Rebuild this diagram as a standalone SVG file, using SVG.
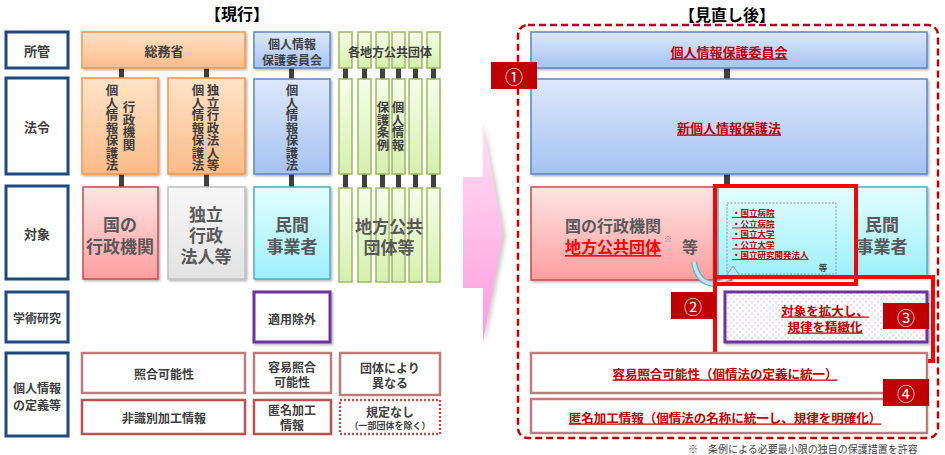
<svg xmlns="http://www.w3.org/2000/svg" width="945" height="455" viewBox="0 0 945 455">
<defs>
<linearGradient id="gOr" x1="0" y1="0" x2="0" y2="1"><stop offset="0" stop-color="#FFE3C8"/><stop offset="1" stop-color="#FBBB88"/></linearGradient>
<linearGradient id="gBl" x1="0" y1="0" x2="0" y2="1"><stop offset="0" stop-color="#DDE8FA"/><stop offset="1" stop-color="#A5C3F2"/></linearGradient>
<linearGradient id="gGr" x1="0" y1="0" x2="0" y2="1"><stop offset="0" stop-color="#F5FDEB"/><stop offset="1" stop-color="#D5EFAE"/></linearGradient>
<linearGradient id="gPk" x1="0" y1="0" x2="0" y2="1"><stop offset="0" stop-color="#FFE4E4"/><stop offset="1" stop-color="#FF9E9E"/></linearGradient>
<linearGradient id="gGy" x1="0" y1="0" x2="0" y2="1"><stop offset="0" stop-color="#F7F7F7"/><stop offset="1" stop-color="#E2E2E2"/></linearGradient>
<linearGradient id="gCy" x1="0" y1="0" x2="0" y2="1"><stop offset="0" stop-color="#E2FEFF"/><stop offset="1" stop-color="#9DEFFA"/></linearGradient>
<linearGradient id="gAr" x1="0" y1="0" x2="0" y2="1"><stop offset="0" stop-color="#FFE0F4"/><stop offset="1" stop-color="#FF9ADF"/></linearGradient>
<pattern id="dots" width="6" height="6" patternUnits="userSpaceOnUse"><rect width="6" height="6" fill="#fff"/><circle cx="2" cy="2" r="0.7" fill="#D9A0C8"/><circle cx="5" cy="5" r="0.7" fill="#D9A0C8"/></pattern>
<filter id="sh" x="-10%" y="-10%" width="130%" height="130%"><feDropShadow dx="1.5" dy="1.5" stdDeviation="1" flood-color="#000" flood-opacity="0.3"/></filter>
<filter id="blur"><feGaussianBlur stdDeviation="2"/></filter>
</defs>
<style>
text{font-family:"Noto Sans CJK JP","Noto Sans",sans-serif;font-weight:bold;fill:#404040;text-anchor:middle;dominant-baseline:central}
.lab{fill:#fff;stroke:#1F497D;stroke-width:3}
.or{fill:url(#gOr);stroke:#F79646;stroke-width:1.5}
.bl{fill:url(#gBl);stroke:#5B85C4;stroke-width:1.5}
.gr{fill:url(#gGr);stroke:#9BBB59;stroke-width:1.5}
.pk{fill:url(#gPk);stroke:#C0504D;stroke-width:1.5}
.gy{fill:url(#gGy);stroke:#BFBFBF;stroke-width:1.5}
.cy{fill:url(#gCy);stroke:#4BACC6;stroke-width:1.5}
.def1{fill:#fff;stroke:#C07B7B;stroke-width:2.5}
.def2{fill:#fff;stroke:#C0504D;stroke-width:2.5}
.badge{fill:#C00000}
.bt{fill:#fff;font-size:18px;font-weight:normal}
.v{writing-mode:vertical-rl;text-anchor:start;font-size:12.5px;dominant-baseline:auto}
.s12{font-size:12px}
.s13{font-size:13px}
.s17{font-size:17px}
.red{fill:#C00000;text-decoration:underline}
.conn{fill:#404040}
.li{font-size:8.5px;text-anchor:start;fill:#C00000;dominant-baseline:auto;text-decoration:underline}
</style>

<text x="237" y="13" font-size="16" style="fill:#000">【現行】</text>
<text x="727" y="14" font-size="16" style="fill:#000">【見直し後】</text>

<g id="connectors">
<rect class="conn" x="119" y="68" width="5" height="11"/>
<rect class="conn" x="204" y="68" width="5" height="11"/>
<rect class="conn" x="119" y="174" width="5" height="13"/>
<rect class="conn" x="204" y="174" width="5" height="13"/>
<rect class="conn" x="289" y="68" width="5" height="11"/>
<rect class="conn" x="289" y="174" width="5" height="13"/>
<rect class="conn" x="343" y="68" width="5" height="11"/>
<rect class="conn" x="362" y="68" width="5" height="11"/>
<rect class="conn" x="380" y="68" width="5" height="11"/>
<rect class="conn" x="396" y="68" width="5" height="11"/>
<rect class="conn" x="413" y="68" width="5" height="11"/>
<rect class="conn" x="431" y="68" width="5" height="11"/>
<rect class="conn" x="343" y="174" width="5" height="14"/>
<rect class="conn" x="362" y="174" width="5" height="14"/>
<rect class="conn" x="380" y="174" width="5" height="14"/>
<rect class="conn" x="396" y="174" width="5" height="14"/>
<rect class="conn" x="413" y="174" width="5" height="14"/>
<rect class="conn" x="431" y="174" width="5" height="14"/>
<rect class="conn" x="724" y="68" width="6" height="11"/>
<rect class="conn" x="724" y="174" width="6" height="13"/>
</g>

<g id="row-labels">
<g id="lab-shokan"><rect class="lab" x="6" y="32" width="62" height="36"/><text class="s13" x="37" y="50">所管</text></g>
<g id="lab-horei"><rect class="lab" x="6" y="78" width="62" height="96"/><text class="s13" x="37" y="126">法令</text></g>
<g id="lab-taisho"><rect class="lab" x="6" y="186" width="62" height="93"/><text class="s13" x="37" y="233">対象</text></g>
<g id="lab-gakujutsu"><rect class="lab" x="6" y="292" width="62" height="50"/><text class="s12" x="37" y="317">学術研究</text></g>
<g id="lab-teigi"><rect class="lab" x="6" y="353" width="62" height="83"/><text class="s12" x="37" y="387">個人情報</text><text class="s12" x="37" y="404">の定義等</text></g>
</g>

<g id="somusho"><rect class="or" x="82" y="32" width="163" height="36" filter="url(#sh)"/><text class="s13" x="164" y="50">総務省</text></g>
<g id="law-gyosei"><rect class="or" x="82" y="78" width="76" height="96" filter="url(#sh)"/><text class="v" x="112" y="84">個人情報保護法</text><text class="v" x="129" y="101">行政機関</text></g>
<g id="law-dokuho"><rect class="or" x="168" y="78" width="77" height="96" filter="url(#sh)"/><text class="v" x="198" y="84">個人情報保護法</text><text class="v" x="213" y="84">独立行政法人等</text></g>
<g id="kuni"><rect class="pk" x="83" y="187" width="75" height="92" filter="url(#sh)"/><text class="s17" x="120" y="223" style="fill:#595959">国の</text><text class="s17" x="120" y="245" style="fill:#595959">行政機関</text></g>
<g id="dokuho"><rect class="gy" x="168" y="187" width="77" height="92" filter="url(#sh)"/><text class="s17" x="206" y="213" style="fill:#595959">独立</text><text class="s17" x="206" y="234" style="fill:#595959">行政</text><text class="s17" x="206" y="255" style="fill:#595959">法人等</text></g>

<g id="ppc"><rect class="bl" x="254" y="32" width="76" height="36" filter="url(#sh)"/><text class="s12" x="292" y="43">個人情報</text><text class="s12" x="292" y="59">保護委員会</text></g>
<g id="law-ppc"><rect class="bl" x="254" y="79" width="76" height="95" filter="url(#sh)"/><text class="v" x="292" y="84">個人情報保護法</text></g>
<g id="minkan"><rect class="cy" x="254" y="187" width="76" height="92" filter="url(#sh)"/><text class="s17" x="292" y="223" style="fill:#595959">民間</text><text class="s17" x="292" y="245" style="fill:#595959">事業者</text></g>
<g id="tekiyo"><rect x="254" y="292" width="76" height="50" fill="#fff" stroke="#7030A0" stroke-width="3" filter="url(#sh)"/><text class="s12" x="292" y="318">適用除外</text></g>

<g id="chiho">
<g id="chiho-top">
<rect class="gr" x="339" y="32" width="13" height="36"/><rect class="gr" x="358" y="32" width="13" height="36"/><rect class="gr" x="376" y="32" width="13" height="36"/><rect class="gr" x="392" y="32" width="13" height="36"/><rect class="gr" x="409" y="32" width="13" height="36"/><rect class="gr" x="427" y="32" width="13" height="36"/>
<text class="s12" x="390" y="51">各地方公共団体</text></g>
<g id="chiho-law">
<rect class="gr" x="339" y="79" width="13" height="95"/><rect class="gr" x="358" y="79" width="13" height="95"/><rect class="gr" x="376" y="79" width="13" height="95"/><rect class="gr" x="392" y="79" width="13" height="95"/><rect class="gr" x="409" y="79" width="13" height="95"/><rect class="gr" x="427" y="79" width="13" height="95"/>
<text class="v" x="398" y="101">個人情報</text><text class="v" x="383" y="101">保護条例</text></g>
<g id="chiho-target">
<rect class="gr" x="339" y="188" width="13" height="94"/><rect class="gr" x="358" y="188" width="13" height="94"/><rect class="gr" x="376" y="188" width="13" height="94"/><rect class="gr" x="392" y="188" width="13" height="94"/><rect class="gr" x="409" y="188" width="13" height="94"/><rect class="gr" x="427" y="188" width="13" height="94"/>
<text class="s17" x="389" y="225" style="fill:#595959">地方公共</text><text class="s17" x="389" y="246" style="fill:#595959">団体等</text></g>
</g>

<g id="shogo"><rect class="def1" x="82" y="353" width="163" height="40"/><text class="s12" x="164" y="373">照合可能性</text></g>
<g id="hishikibetsu"><rect class="def2" x="82" y="400" width="163" height="34"/><text class="s12" x="164" y="417">非識別加工情報</text></g>
<g id="yoi"><rect class="def1" x="254" y="353" width="77" height="40"/><text class="s12" x="292" y="366">容易照合</text><text class="s12" x="292" y="381">可能性</text></g>
<g id="tokumei"><rect class="def2" x="254" y="400" width="77" height="34"/><text class="s12" x="292" y="409">匿名加工</text><text class="s12" x="292" y="424">情報</text></g>
<g id="dantai"><rect class="def1" x="340" y="353" width="100" height="42"/><text class="s12" x="390" y="367">団体により</text><text class="s12" x="390" y="382">異なる</text></g>
<g id="kitei"><rect x="340" y="400" width="100" height="34" fill="#fff" stroke="#C0504D" stroke-width="2.5" stroke-dasharray="2,2"/><text class="s12" x="390" y="411">規定なし</text><text x="390" y="425" font-size="9">（一部団体を除く）</text></g>

<g id="big-arrow">
<polygon points="485,126 506,236 485,345" fill="#999" opacity="0.5" filter="url(#blur)"/>
<polygon points="463,177 483,177 483,123 503,233 483,342 483,288 463,288" fill="url(#gAr)"/>
</g>

<g id="review">
<rect x="518" y="25" width="420" height="413" rx="10" fill="none" stroke="#C00000" stroke-width="2.5" stroke-dasharray="7,4"/>
<g id="new-ppc"><rect class="bl" x="531" y="32" width="396" height="36" filter="url(#sh)"/><text class="red" x="729" y="51" font-size="13">個人情報保護委員会</text></g>
<g id="new-law"><rect class="bl" x="531" y="79" width="396" height="95" filter="url(#sh)"/><text class="red" x="729" y="127" font-size="13">新個人情報保護法</text></g>
<g id="new-target">
<rect class="pk" x="531" y="187" width="200" height="93" filter="url(#sh)"/>
<rect class="cy" x="718" y="187" width="209" height="90" filter="url(#sh)"/>
<text x="565" y="225" font-size="16" style="text-anchor:start;fill:#595959">国の行政機関</text>
<text x="565" y="246" font-size="16" style="text-anchor:start;fill:#FF0000;text-decoration:underline">地方公共団体</text>
<text x="664" y="238" font-size="8" style="text-anchor:start;fill:#808080">※</text>
<text x="690" y="246" font-size="16" style="fill:#595959">等</text>
<rect x="727" y="203" width="109" height="71" fill="none" stroke="#808080" stroke-width="0.8" stroke-dasharray="2,1.5"/>
<text class="li" x="732" y="216">・国立病院</text>
<text class="li" x="732" y="226.5">・公立病院</text>
<text class="li" x="732" y="237">・国立大学</text>
<text class="li" x="732" y="247.5">・公立大学</text>
<text class="li" x="732" y="258">・国立研究開発法人</text>
<text x="823" y="267" font-size="8.5" style="fill:#404040">等</text>
<text class="s17" x="882" y="223" style="fill:#595959">民間</text>
<text class="s17" x="882" y="245" style="fill:#595959">事業者</text>
<path d="M 694,262 C 698,285 715,290 732,275" fill="none" stroke="#6BAFC4" stroke-width="6"/>
<path d="M 694,262 C 698,285 715,290 732,275" fill="none" stroke="#BFE6F0" stroke-width="3.5"/>
<polygon points="726,276 733,266 740,276" fill="#BFE6F0" stroke="#6BAFC4" stroke-width="1"/>
<rect x="715" y="186" width="141" height="98" fill="none" stroke="#FF0000" stroke-width="4"/>
</g>
<g id="kakudai">
<rect x="725" y="292" width="202" height="50" fill="url(#dots)" stroke="#7030A0" stroke-width="3" filter="url(#sh)"/>
<text class="red" x="825" y="310" font-size="12.5">対象を拡大し、</text>
<text class="red" x="825" y="326" font-size="12.5">規律を精緻化</text>
<rect x="715" y="277" width="218" height="84" fill="none" stroke="#FF0000" stroke-width="4"/>
</g>
<g id="new-yoi"><rect class="def1" x="531" y="353" width="396" height="40"/><text class="red" x="725" y="373" font-size="12.5">容易照合可能性（個情法の定義に統一）</text></g>
<g id="new-tokumei"><rect class="def1" x="531" y="399" width="396" height="34"/><text class="red" x="725" y="417" font-size="12.5">匿名加工情報（個情法の名称に統一し、規律を明確化）</text></g>
<g id="badge1"><rect class="badge" x="491" y="62" width="46" height="27"/><text class="bt" x="514" y="76">①</text></g>
<g id="badge2"><rect class="badge" x="671" y="292" width="45" height="27"/><text class="bt" x="693" y="306">②</text></g>
<g id="badge3"><rect class="badge" x="883" y="303" width="46" height="26"/><text class="bt" x="906" y="317">③</text></g>
<g id="badge4"><rect class="badge" x="883" y="379" width="46" height="27"/><text class="bt" x="906" y="393">④</text></g>
</g>
<text x="688" y="448" font-size="10" style="text-anchor:start;font-weight:normal">※　条例による必要最小限の独自の保護措置を許容</text>
</svg>
